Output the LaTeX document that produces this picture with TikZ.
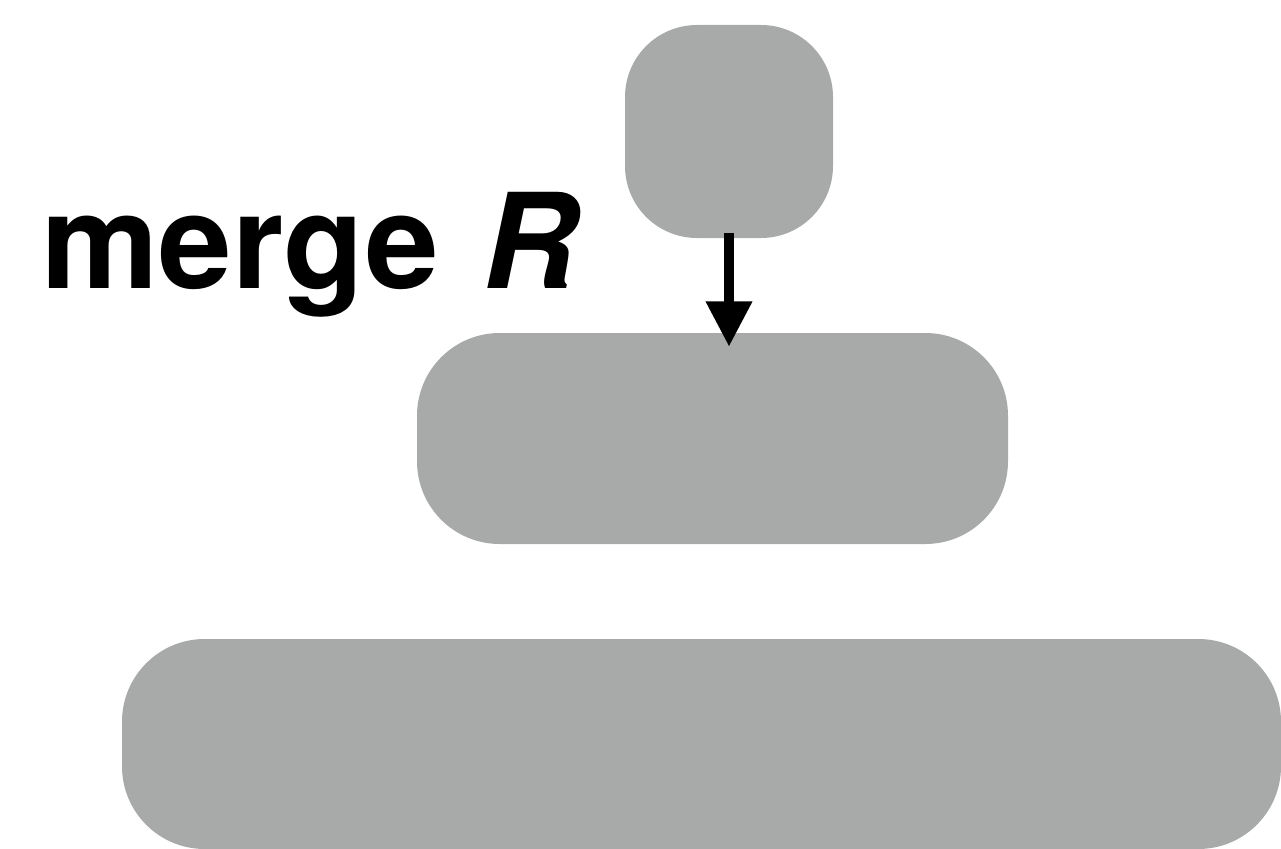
\documentclass[tikz,border=0pt]{standalone}
\usepackage{fontspec}
\setmainfont{TeX Gyre Heros}
\usetikzlibrary{arrows.meta,calc}
\definecolor{boxgray}{RGB}{167,170,169}
\tikzset{
  gbox/.style={rectangle, fill=boxgray, draw=none, inner sep=0pt},
  flowarrow/.style={line width=7.5pt, -{Triangle[width=33pt,length=34pt]}}
}
\begin{document}
\begin{tikzpicture}[x=0.75pt,y=-0.75pt]
\useasboundingbox (0,0) rectangle (1281,849);
\node[gbox, minimum width=156pt, minimum height=159.75pt, rounded corners=54pt] (top) at (729,131.5) {};
\node[gbox, minimum width=443.25pt, minimum height=158.25pt, rounded corners=62pt] (mid) at (712.5,438.5) {};
\node[gbox, minimum width=869.25pt, minimum height=157.5pt, rounded corners=62pt] (bot) at (701.5,744) {};
\node[anchor=base west, inner sep=0pt, font=\fontsize{99pt}{110pt}\selectfont\bfseries] (lbl) at (41,288) {merge\hspace{0.33em}\textit{R}};
\draw[flowarrow] ($(top.south)+(0,-5)$) -- ($(top.south |- mid.north)+(0,14)$);
\end{tikzpicture}
\end{document}
